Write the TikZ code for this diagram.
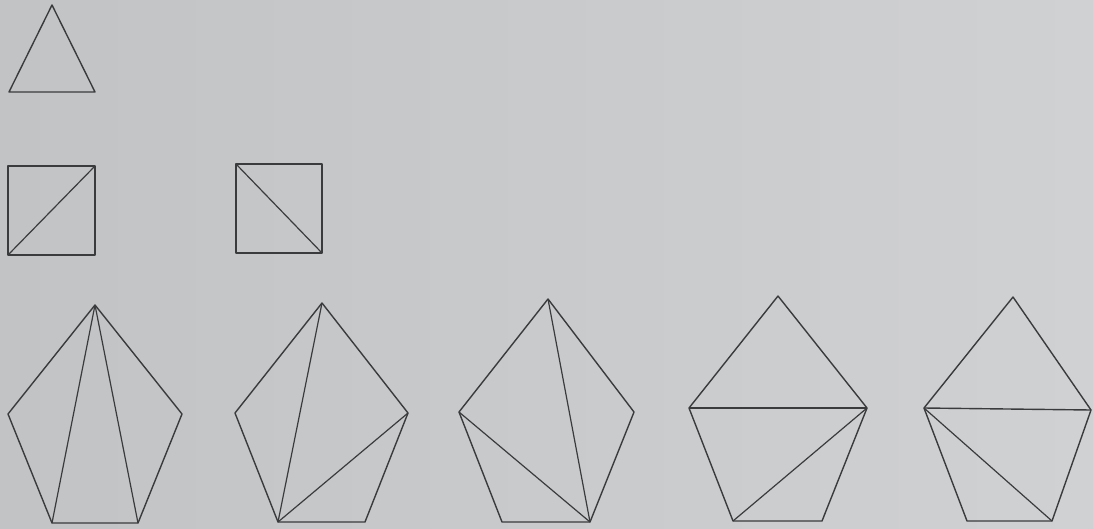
\documentclass[tikz,border=0pt]{standalone}
\usepackage{xcolor}
\definecolor{PaperLeft}{HTML}{C2C3C5}
\definecolor{PaperRight}{HTML}{D0D1D2}
\definecolor{InkGrey}{HTML}{3A3B3D}
\usepackage{tikz}

\begin{document}
\begin{tikzpicture}[
      x=1pt, y=-1pt,
      side/.style={InkGrey, line width=1.4pt, line join=round},
      diag/.style={InkGrey, line width=1.2pt}
    ]
    \shade[left color=PaperLeft, right color=PaperRight] (0,0) rectangle (1093,528);
    \useasboundingbox (0,0) rectangle (1093,528);

    % triangle
    \coordinate (tT) at (52,5);
    \coordinate (tL) at (9,92);
    \coordinate (tR) at (95,92);
    \draw[side] (tT) -- (tR) -- (tL) -- cycle;

    % squares
    \coordinate (sA) at (8,166);
    \coordinate (sB) at (95,166);
    \coordinate (sC) at (95,255);
    \coordinate (sD) at (8,255);
    \draw[side] (sA) -- (sB) -- (sC) -- (sD) -- cycle;
    \draw[diag] (sD) -- (sB);

    \coordinate (qA) at (236,164);
    \coordinate (qB) at (322,164);
    \coordinate (qC) at (322,253);
    \coordinate (qD) at (236,253);
    \draw[side] (qA) -- (qB) -- (qC) -- (qD) -- cycle;
    \draw[diag] (qA) -- (qC);

    % pentagons
    \coordinate (aT) at (95,305);
    \coordinate (aL) at (8,414);
    \coordinate (aR) at (182,414);
    \coordinate (aBL) at (52,523);
    \coordinate (aBR) at (138,523);
    \draw[side] (aT) -- (aR) -- (aBR) -- (aBL) -- (aL) -- cycle;
    \draw[diag] (aT) -- (aBL);
    \draw[diag] (aT) -- (aBR);

    \coordinate (bT) at (322,303);
    \coordinate (bL) at (235,413);
    \coordinate (bR) at (408,413);
    \coordinate (bBL) at (278,522);
    \coordinate (bBR) at (365,522);
    \draw[side] (bT) -- (bR) -- (bBR) -- (bBL) -- (bL) -- cycle;
    \draw[diag] (bT) -- (bBL);
    \draw[diag] (bBL) -- (bR);

    \coordinate (cT) at (548,299);
    \coordinate (cL) at (459,412);
    \coordinate (cR) at (634,412);
    \coordinate (cBL) at (502,522);
    \coordinate (cBR) at (590,522);
    \draw[side] (cT) -- (cR) -- (cBR) -- (cBL) -- (cL) -- cycle;
    \draw[diag] (cT) -- (cBR);
    \draw[diag] (cL) -- (cBR);

    \coordinate (dT) at (778,296);
    \coordinate (dL) at (689,408);
    \coordinate (dR) at (867,408);
    \coordinate (dBL) at (733,521);
    \coordinate (dBR) at (822,521);
    \draw[side] (dT) -- (dR) -- (dBR) -- (dBL) -- (dL) -- cycle;
    \draw[side] (dL) -- (dR);
    \draw[diag] (dR) -- (dBL);

    \coordinate (eT) at (1013,297);
    \coordinate (eL) at (924,408);
    \coordinate (eR) at (1091,410);
    \coordinate (eBL) at (967,521);
    \coordinate (eBR) at (1052,521);
    \draw[side] (eT) -- (eR) -- (eBR) -- (eBL) -- (eL) -- cycle;
    \draw[side] (eL) -- (eR);
    \draw[diag] (eL) -- (eBR);
  \end{tikzpicture}
\end{document}
